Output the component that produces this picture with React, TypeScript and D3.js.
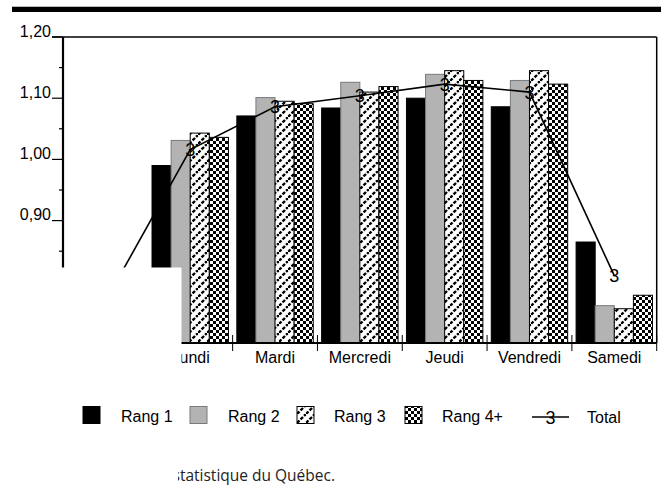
import React from "react";
import * as d3 from "d3";

const days = ["Dimanche", "Lundi", "Mardi", "Mercredi", "Jeudi", "Vendredi", "Samedi"];
const seriesNames = ["Rang 1", "Rang 2", "Rang 3", "Rang 4+"];
const rang1 = [0.8, 0.99, 1.071, 1.084, 1.1, 1.086, 0.865];
const rang2 = [0.75, 1.031, 1.101, 1.126, 1.139, 1.129, 0.761];
const rang3 = [0.75, 1.043, 1.095, 1.11, 1.145, 1.145, 0.756];
const rang4 = [0.77, 1.036, 1.091, 1.119, 1.129, 1.123, 0.778];
const total = [0.768, 1.016, 1.086, 1.104, 1.123, 1.11, 0.81];
const majorTicks = [0.9, 1.0, 1.1, 1.2];
const minorTicks = [0.85, 0.95, 1.05, 1.15];
const tickLabels = ["0,90", "1,00", "1,10", "1,20"];
const sourceText = "Source : Institut de la statistique du Québec.";

const W = 661;
const H = 487;
const left = 63;
const right = 656.7;
const top = 37;
const bottom = 343;

const fills = ["#000000", "#b3b3b3", "url(#hatch)", "url(#checker)"];
const strokes = ["#000000", "#7a7a7a", "#000000", "#000000"];
const font = "'Liberation Sans', Arial, sans-serif";
const fs = 16;

export default function App() {
  const x = d3.scaleBand<string>().domain(days).range([left, right]).paddingInner(0).paddingOuter(0);
  const x1 = d3.scaleBand<string>().domain(seriesNames).range([0, x.bandwidth()]).paddingInner(0).paddingOuter(0.22);
  const y = d3.scaleLinear().domain([0.7, 1.2]).range([bottom, top]);
  const data = [rang1, rang2, rang3, rang4];
  const cx = (i: number) => (x(days[i]) as number) + x.bandwidth() / 2;
  const line = d3
    .line<number>()
    .x((_, i) => cx(i))
    .y((d) => y(d));

  const legendItems = [
    { sx: 83, tx: 121 },
    { sx: 190, tx: 228 },
    { sx: 297, tx: 334 },
    { sx: 405, tx: 442 },
  ];

  return (
    <svg
      width={W}
      height={H}
      style={{ position: "absolute", left: 0, top: 0, background: "#fff" }}
      fontFamily={font}
    >
      <defs>
        <pattern id="hatch" patternUnits="userSpaceOnUse" width="9" height="9">
          <rect width="9" height="9" fill="#fff" />
          <path d="M0,9 L9,0 M-3,3 L3,-3 M6,12 L12,6" stroke="#000" strokeWidth="2.4" strokeDasharray="3.5 1.5" />
        </pattern>
        <pattern id="checker" patternUnits="userSpaceOnUse" width="6" height="6">
          <rect width="6" height="6" fill="#fff" shapeRendering="crispEdges" />
          <rect x="0" y="0" width="3" height="3" fill="#000" shapeRendering="crispEdges" />
          <rect x="3" y="3" width="3" height="3" fill="#000" shapeRendering="crispEdges" />
        </pattern>
      </defs>

      <rect x={12} y={6} width={W - 12} height={1} fill="#bbb" />
      <rect x={12} y={7} width={W - 12} height={5} fill="#000" />

      {data.map((vals, si) =>
        vals.map((v, di) => (
          <rect
            key={`${si}-${di}`}
            x={(x(days[di]) as number) + (x1(seriesNames[si]) as number)}
            y={y(v)}
            width={x1.bandwidth()}
            height={bottom - y(v)}
            fill={fills[si]}
            stroke={strokes[si]}
            strokeWidth={1}
          />
        ))
      )}

      <line x1={52} x2={right} y1={top} y2={top} stroke="#000" strokeWidth={1.5} />
      <line x1={right} x2={right} y1={top} y2={bottom} stroke="#000" strokeWidth={1.5} />
      <line x1={left} x2={left} y1={top} y2={bottom} stroke="#000" strokeWidth={2.2} />
      <line x1={left} x2={right} y1={bottom} y2={bottom} stroke="#000" strokeWidth={2.2} />

      {majorTicks.map((t, i) => (
        <g key={`mj${i}`}>
          <line x1={52} x2={left} y1={y(t)} y2={y(t)} stroke="#000" strokeWidth={1.2} />
          <text x={51} y={y(t) - 0.5} textAnchor="end" fontSize={fs} fill="#000">
            {tickLabels[i]}
          </text>
        </g>
      ))}
      {minorTicks.map((t, i) => (
        <line key={`mn${i}`} x1={59} x2={left} y1={y(t)} y2={y(t)} stroke="#000" strokeWidth={1.2} />
      ))}

      {days.map((d, i) =>
        i > 0 ? (
          <line
            key={`ct${i}`}
            x1={(x(d) as number) + x.bandwidth()}
            x2={(x(d) as number) + x.bandwidth()}
            y1={bottom - 8}
            y2={bottom + 8}
            stroke="#000"
            strokeWidth={1}
          />
        ) : null
      )}
      {days.map((d, i) => (
        <text key={`cl${i}`} x={cx(i)} y={363} textAnchor="middle" fontSize={fs} fill="#000">
          {d}
        </text>
      ))}

      <path d={line(total) as string} fill="none" stroke="#000" strokeWidth={1.6} />
      {total.map((v, i) => (
        <text key={`m${i}`} x={cx(i)} y={y(v) + 6.5} textAnchor="middle" fontSize={18} fill="#000">
          3
        </text>
      ))}

      <rect x={0} y={267.5} width={181.5} height={372 - 267.5} fill="#fff" />

      {legendItems.map((it, i) => (
        <g key={`lg${i}`}>
          <rect x={it.sx} y={406.5} width={17} height={17} fill={fills[i]} stroke={strokes[i]} strokeWidth={1} />
          <text x={it.tx} y={422} fontSize={fs} fill="#000">
            {seriesNames[i]}
          </text>
        </g>
      ))}
      <line x1={532} x2={569} y1={417} y2={417} stroke="#000" strokeWidth={1.6} />
      <text x={550.5} y={423.5} textAnchor="middle" fontSize={18} fill="#000">
        3
      </text>
      <text x={587} y={423} fontSize={fs} fill="#000">
        Total
      </text>

      <text x={335} y={481} textAnchor="end" fontSize={15.5} fontFamily="'Open Sans', sans-serif" fill="#222">
        {sourceText}
      </text>
      <rect x={0} y={462} width={178} height={H - 462} fill="#fff" />
    </svg>
  );
}
